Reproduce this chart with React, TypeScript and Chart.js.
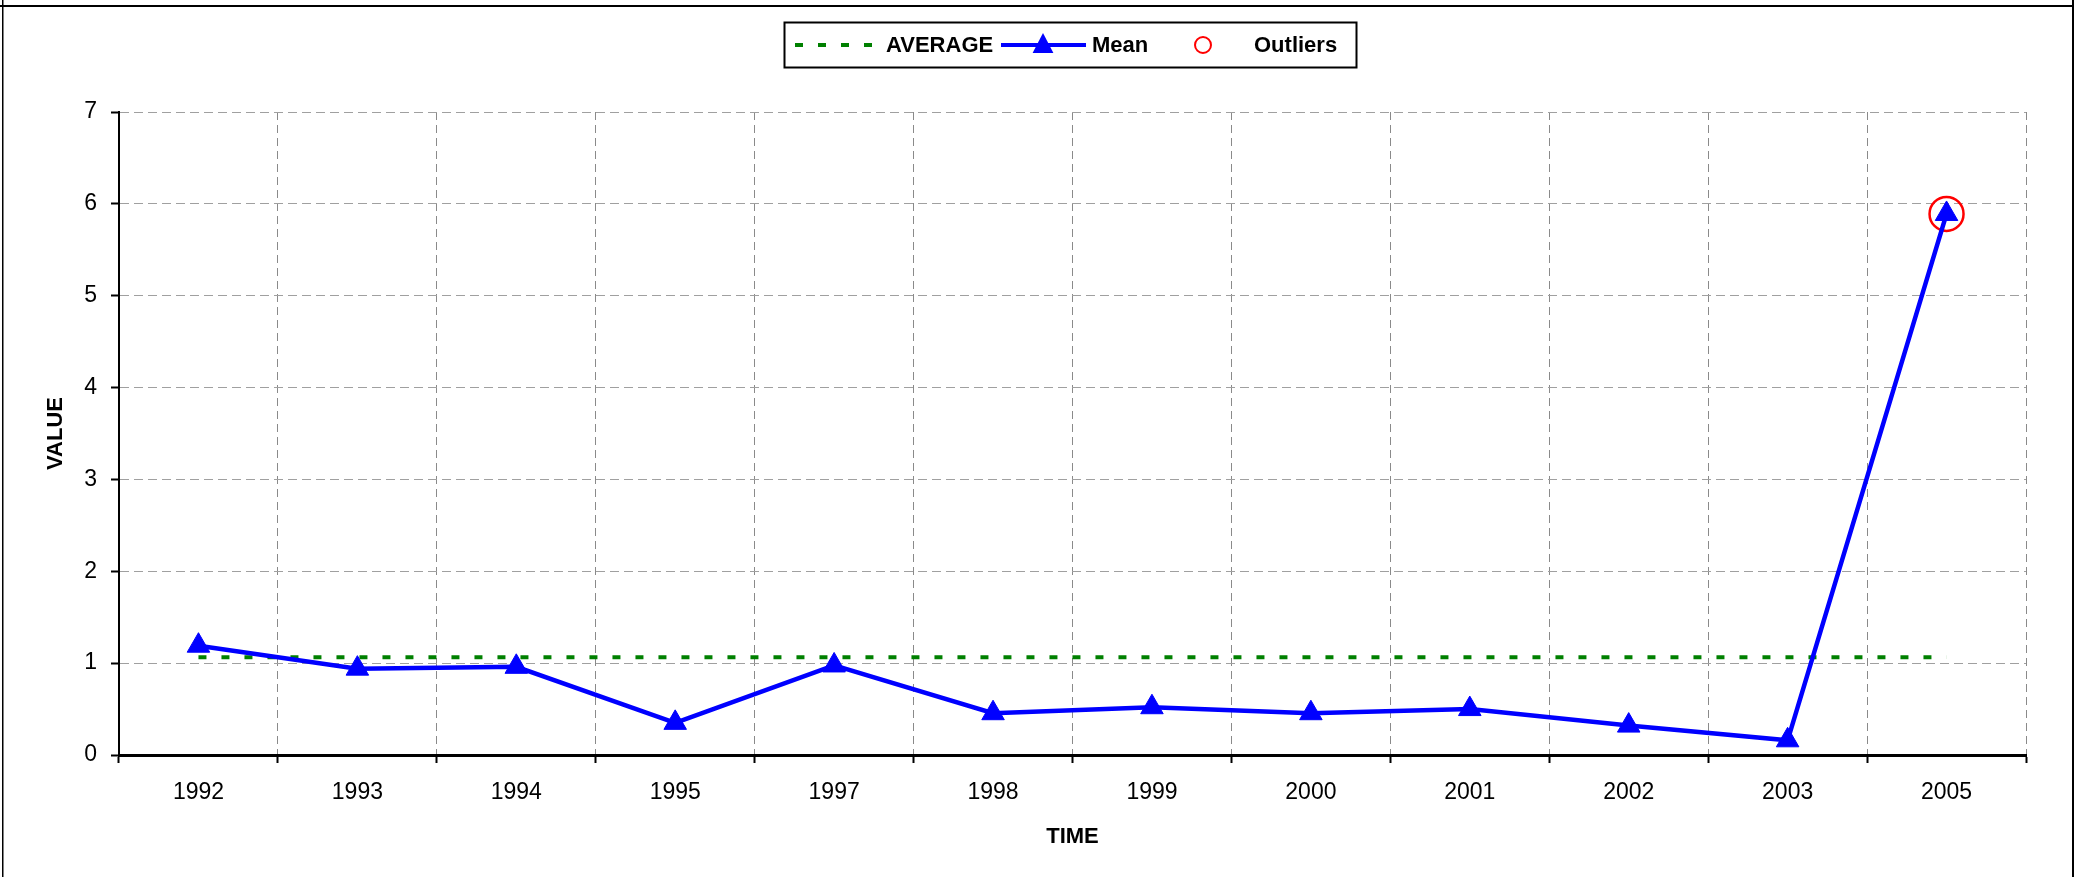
import React, { useEffect, useRef } from "react";
import { Chart, registerables } from "chart.js";

Chart.register(...registerables);

const categories = ["1992", "1993", "1994", "1995", "1997", "1998", "1999", "2000", "2001", "2002", "2003", "2005"];
const meanValues = [1.19, 0.94, 0.96, 0.35, 0.975, 0.455, 0.52, 0.455, 0.5, 0.32, 0.16, 5.89];
const averageValues = [1.065, 1.065, 1.065, 1.065, 1.065, 1.065, 1.065, 1.065, 1.065, 1.065, 1.065, 1.065];
const outlierValues = [null, null, null, null, null, null, null, null, null, null, null, 5.89];
const yTickValues = [0, 1, 2, 3, 4, 5, 6, 7];

const FONT = "'Liberation Sans', Arial, Helvetica, sans-serif";
const W = 2074;
const H = 877;

const framePlugin = {
  id: "frame",
  beforeDraw(chart: any) {
    const ctx = chart.ctx;
    ctx.save();
    ctx.fillStyle = "#ffffff";
    ctx.fillRect(0, 0, W, H);
    ctx.fillStyle = "#000000";
    ctx.fillRect(0, 5, W, 2);
    ctx.fillRect(2, 0, 1.5, H);
    ctx.fillRect(2072, 0, 2, H);
    ctx.restore();
  },
};

const legendPlugin = {
  id: "customLegend",
  afterDraw(chart: any) {
    const ctx = chart.ctx;
    ctx.save();
    const boxL = 784.5, boxT = 22.5, boxW = 572, boxH = 45;
    const cy = boxT + boxH / 2;
    ctx.lineWidth = 2;
    ctx.strokeStyle = "#000";
    ctx.strokeRect(boxL, boxT, boxW, boxH);

    // AVERAGE sample
    ctx.beginPath();
    ctx.setLineDash([8, 15]);
    ctx.lineWidth = 4;
    ctx.strokeStyle = "#008000";
    ctx.moveTo(795, cy);
    ctx.lineTo(880, cy);
    ctx.stroke();
    ctx.setLineDash([]);

    ctx.font = `bold 22px ${FONT}`;
    ctx.fillStyle = "#000";
    ctx.textBaseline = "middle";
    ctx.textAlign = "left";
    ctx.fillText("AVERAGE", 886, cy + 1);

    // Mean sample
    ctx.beginPath();
    ctx.lineWidth = 4;
    ctx.strokeStyle = "#0000ff";
    ctx.moveTo(1001, cy);
    ctx.lineTo(1086, cy);
    ctx.stroke();
    const tx = 1043, r = 12;
    ctx.beginPath();
    ctx.fillStyle = "#0000ff";
    ctx.moveTo(tx, cy - r);
    ctx.lineTo(tx + r * 0.866, cy + r / 2 + 2);
    ctx.lineTo(tx - r * 0.866, cy + r / 2 + 2);
    ctx.closePath();
    ctx.fill();
    ctx.fillStyle = "#000";
    ctx.fillText("Mean", 1092, cy + 1);

    // Outliers sample
    ctx.beginPath();
    ctx.lineWidth = 2;
    ctx.strokeStyle = "#ff0000";
    ctx.arc(1203, cy, 8, 0, Math.PI * 2);
    ctx.stroke();
    ctx.fillStyle = "#000";
    ctx.fillText("Outliers", 1254, cy + 1);
    ctx.restore();
  },
};

export default function App() {
  const canvasRef = useRef<HTMLCanvasElement | null>(null);

  useEffect(() => {
    if (!canvasRef.current) return;
    const chart = new Chart(canvasRef.current, {
      type: "line",
      data: {
        labels: categories,
        datasets: [
          {
            label: "Mean",
            data: meanValues,
            borderColor: "#0000ff",
            backgroundColor: "#0000ff",
            borderWidth: 4.5,
            pointStyle: "triangle",
            pointRadius: 13,
            pointBorderWidth: 1,
            pointBackgroundColor: "#0000ff",
            pointBorderColor: "#0000ff",
            tension: 0,
          },
          {
            label: "Outliers",
            data: outlierValues,
            showLine: false,
            pointStyle: "circle",
            pointRadius: 17,
            pointBorderWidth: 2.5,
            pointBorderColor: "#ff0000",
            pointBackgroundColor: "rgba(0,0,0,0)",
            borderColor: "#ff0000",
            backgroundColor: "rgba(0,0,0,0)",
          },
          {
            label: "AVERAGE",
            data: averageValues,
            borderColor: "#008000",
            backgroundColor: "#008000",
            borderWidth: 4,
            borderDash: [8, 15],
            borderCapStyle: "butt",
            pointRadius: 0,
            tension: 0,
          },
        ],
      },
      options: {
        responsive: false,
        animation: false,
        events: [],
        layout: { padding: { left: 0, top: 112, right: 48, bottom: 0 } },
        plugins: {
          legend: { display: false },
          tooltip: { enabled: false },
          title: { display: false },
        },
        scales: {
          x: {
            type: "category",
            offset: true,
            grid: {
              offset: true,
              color: "#8a8a8a",
              lineWidth: 1,
              tickLength: 8,
              tickColor: "#000",
              tickWidth: 2,
            } as any,
            border: { color: "#000", width: 3, dash: [8, 5] } as any,
            ticks: {
              color: "#000",
              font: { family: FONT, size: 23 },
              padding: 16,
              maxRotation: 0,
              autoSkip: false,
            },
            title: {
              display: true,
              text: "TIME",
              color: "#000",
              font: { family: FONT, size: 22, weight: "bold" },
              padding: { top: 4, bottom: 27 },
            },
            afterFit(scale: any) {
              scale.height = H - 755;
            },
          },
          y: {
            min: 0,
            max: 7,
            afterBuildTicks(scale: any) {
              scale.ticks = yTickValues.map((v) => ({ value: v }));
            },
            grid: {
              color: "#a0a0a0",
              lineWidth: 1,
              tickLength: 8,
              tickColor: "#000",
              tickWidth: 2,
            } as any,
            border: { color: "#000", width: 2, dash: [9, 5] } as any,
            ticks: {
              color: "#000",
              font: { family: FONT, size: 23 },
              padding: 14,
            },
            title: {
              display: true,
              text: "VALUE",
              color: "#000",
              font: { family: FONT, size: 22, weight: "bold" },
              padding: { top: 43, bottom: 4 },
            },
            afterFit(scale: any) {
              scale.width = 119;
            },
          },
        },
      },
      plugins: [framePlugin, legendPlugin],
    });
    return () => chart.destroy();
  }, []);

  return (
    <div style={{ position: "absolute", left: 0, top: 0, width: W, height: H, overflow: "hidden", background: "#fff" }}>
      <canvas ref={canvasRef} width={W} height={H} style={{ display: "block", width: W, height: H }} />
    </div>
  );
}
